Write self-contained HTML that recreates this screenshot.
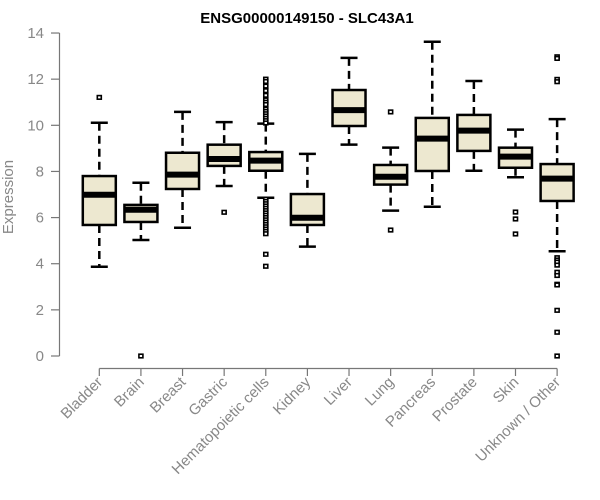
<!DOCTYPE html>
<html><head><meta charset="utf-8"><style>
body{margin:0;background:#fff}
svg{display:block;font-family:"Liberation Sans",Arial,sans-serif}
</style></head><body>
<svg id="chart" width="600" height="500" viewBox="0 0 600 500" xmlns="http://www.w3.org/2000/svg">
<text x="307" y="23" text-anchor="middle" font-size="15" font-weight="bold" fill="#000">ENSG00000149150 - SLC43A1</text>
<text transform="translate(13,197) rotate(-90)" text-anchor="middle" font-size="15" fill="#888">Expression</text>
<g id="axes"></g>
<g id="marks"></g>
</svg>
<script>
const categories = ["Bladder","Brain","Breast","Gastric","Hematopoietic cells","Kidney","Liver","Lung","Pancreas","Prostate","Skin","Unknown / Other"];
const lowerWhisker = [3.87,5.03,5.56,7.37,6.86,4.74,9.16,6.30,6.47,8.03,7.75,4.54];
const q1Values     = [5.68,5.81,7.24,8.24,8.03,5.68,9.97,7.43,8.02,8.89,8.16,6.72];
const medianValues = [6.99,6.34,7.86,8.54,8.47,5.99,10.66,7.77,9.42,9.77,8.64,7.69];
const q3Values     = [7.80,6.55,8.81,9.16,8.84,7.02,11.53,8.28,10.32,10.45,9.03,8.32];
const upperWhisker = [10.11,7.51,10.58,10.14,10.07,8.76,12.92,9.03,13.62,11.92,9.81,10.27];
const outliers = [
  [11.21],
  [0],
  [],
  [6.23],
  [12.0,11.9,11.7,11.5,11.3,11.1,11.0,10.9,10.7,10.6,10.5,10.4,10.3,10.2,10.1,6.8,6.7,6.6,6.5,6.4,6.3,6.2,6.1,6.0,5.9,5.8,5.7,5.6,5.5,5.4,5.3,4.41,3.89],
  [],
  [],
  [10.58,5.46],
  [],
  [],
  [6.24,5.94,5.29],
  [12.97,12.9,11.99,11.89,4.26,4.16,4.07,3.94,3.63,3.49,3.11,3.08,1.98,1.03,0]
];
const yTicks = [0,2,4,6,8,10,12,14];

const NS="http://www.w3.org/2000/svg";
const y = v => 356 - v*23.07;
const x = i => 99.3 + i*41.62;
const BW = 33;
function mk(tag, attrs, parent){const e=document.createElementNS(NS,tag);for(const k in attrs)e.setAttribute(k,attrs[k]);parent.appendChild(e);return e;}
const axes=document.getElementById('axes'), marks=document.getElementById('marks');

// y axis
const yl=mk('line',{x1:59.5,x2:59.5,y1:y(0),y2:y(14),stroke:'#777','stroke-width':1.2},axes);


yTicks.forEach(t=>{
  const tk=mk('line',{x1:51,x2:59.5,y1:y(t),y2:y(t),stroke:'#777','stroke-width':1.2},axes);
  
  
  const tx=mk('text',{x:44,y:y(t)+5,'text-anchor':'end','font-size':15,fill:'#888'},axes);
  tx.textContent=t;
  
  
});
// x axis
const xl=mk('line',{x1:x(0),x2:x(categories.length-1),y1:368.5,y2:368.5,stroke:'#777','stroke-width':1.2},axes);


categories.forEach((c,i)=>{
  const tk=mk('line',{x1:x(i),x2:x(i),y1:368.5,y2:376,stroke:'#777','stroke-width':1.2},axes);
  
  
  const tx=mk('text',{transform:`translate(${x(i)+4},${383}) rotate(-45)`,'text-anchor':'end','font-size':15,fill:'#888'},axes);
  tx.textContent=c;
  
  
});
// boxes
categories.forEach((c,i)=>{
  const g=mk('g',{},marks);
  
  
  const cx=x(i);
  mk('line',{x1:cx,x2:cx,y1:y(upperWhisker[i]),y2:y(q3Values[i]),stroke:'#000','stroke-width':2.5,'stroke-dasharray':'8,5'},g);
  mk('line',{x1:cx,x2:cx,y1:y(q1Values[i]),y2:y(lowerWhisker[i]),stroke:'#000','stroke-width':2.5,'stroke-dasharray':'8,5'},g);
  mk('line',{x1:cx-8.5,x2:cx+8.5,y1:y(upperWhisker[i]),y2:y(upperWhisker[i]),stroke:'#000','stroke-width':2.5},g);
  mk('line',{x1:cx-8.5,x2:cx+8.5,y1:y(lowerWhisker[i]),y2:y(lowerWhisker[i]),stroke:'#000','stroke-width':2.5},g);
  mk('rect',{x:cx-BW/2,y:y(q3Values[i]),width:BW,height:y(q1Values[i])-y(q3Values[i]),fill:'#ede8d0',stroke:'#000','stroke-width':2.5},g);
  mk('line',{x1:cx-BW/2,x2:cx+BW/2,y1:y(medianValues[i]),y2:y(medianValues[i]),stroke:'#000','stroke-width':6},g);
  outliers[i].forEach(v=>{
    const p=mk('rect',{x:cx-2,y:y(v)-1.8,width:4,height:3.6,fill:'#fff',stroke:'#000','stroke-width':1.6},g);
    
    
  });
});
</script>
</body></html>
